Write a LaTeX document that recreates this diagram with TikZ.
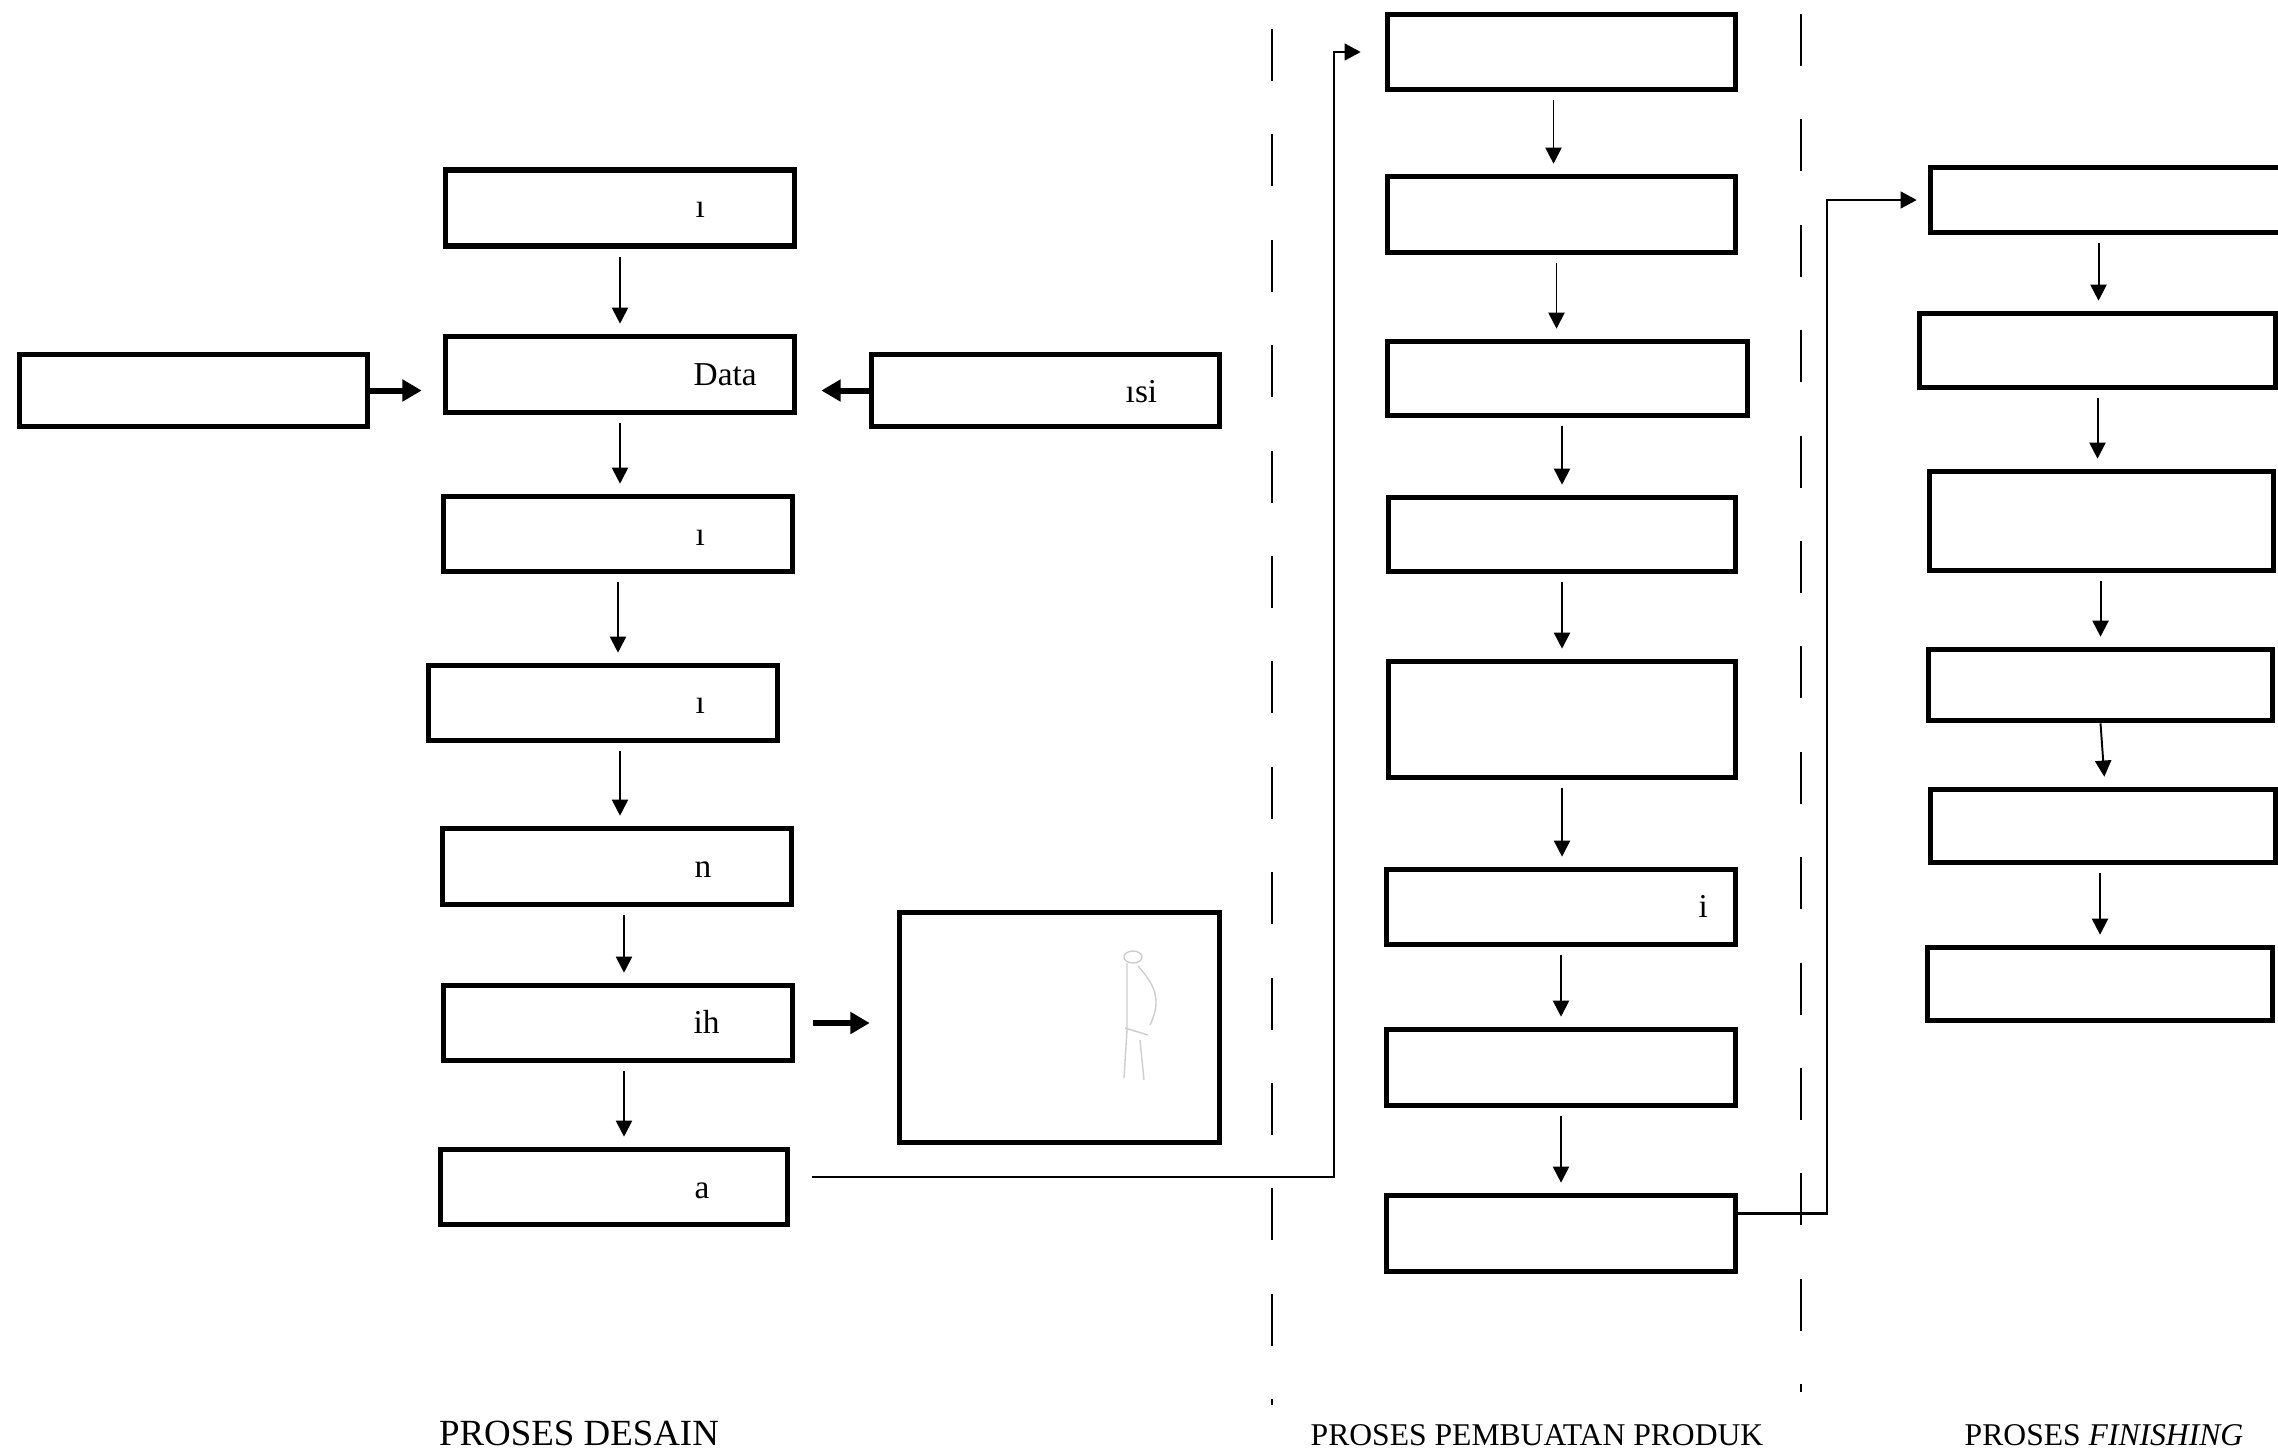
\documentclass[tikz,border=0pt]{standalone}
\usepackage{fontspec}
\setmainfont{Liberation Serif}
\usepackage{tikz}
\usetikzlibrary{arrows.meta,positioning,calc}
\definecolor{sketchgray}{RGB}{205,205,205}
\tikzstyle{stepbox} = [rectangle, draw=black, line width=1.6pt, minimum width=3.49cm, minimum height=0.76cm, inner sep=0pt]
\tikzstyle{flow} = [line width=0.55pt, -{Triangle[length=4.6pt,width=4.6pt]}, shorten <=0.08cm, shorten >=0.1cm]
\tikzstyle{fatarrow} = [line width=1.7pt, -{Triangle[length=5.5pt,width=6pt]}]
\tikzstyle{link} = [line width=0.6pt, -{Triangle[length=4.6pt,width=4.8pt]}]
\tikzstyle{divider} = [line width=0.6pt, dash pattern=on 0.52cm off 0.534cm]
\tikzstyle{frag} = [inner sep=0pt, anchor=base west, font=\fontsize{9.5}{10}\selectfont]
\tikzstyle{phase} = [inner sep=0pt, font=\fontsize{9}{11}\selectfont]

\begin{document}
\begin{tikzpicture}
\useasboundingbox (0,0) rectangle (22.78,-14.54);

% desain
\node[stepbox] (a1) at (6.20,-2.08) {};
\node[stepbox] (a2) at (6.20,-3.745) {};
\node[stepbox, minimum width=3.48cm, minimum height=0.72cm] (l) at (1.935,-3.905) {};
\node[stepbox, minimum width=3.48cm, minimum height=0.72cm] (r) at (10.455,-3.905) {};
\node[stepbox, minimum height=0.75cm] (a3) at (6.18,-5.34) {};
\node[stepbox, minimum height=0.75cm] (a4) at (6.03,-7.03) {};
\node[stepbox] (a5) at (6.17,-8.665) {};
\node[stepbox, minimum height=0.75cm] (a6) at (6.18,-10.23) {};
\node[stepbox, minimum width=3.47cm, minimum height=0.75cm] (a7) at (6.14,-11.87) {};
\node[stepbox, minimum width=3.20cm, minimum height=2.30cm] (p) at (10.595,-10.275) {};

\node[frag] (t1) at (6.95,-2.17) {ı};
\node[frag] (t2) at (6.93,-3.85) {Data};
\node[frag] (t3) at (11.25,-4.02) {ısi};
\node[frag] (t4) at (6.95,-5.45) {ı};
\node[frag] (t5) at (6.95,-7.13) {ı};
\node[frag] (t6) at (6.94,-8.77) {n};
\node[frag] (t7) at (6.93,-10.33) {ih};
\node[frag] (t8) at (6.94,-11.98) {a};

% sketch in the picture box
\begin{scope}[sketchgray, line width=0.4pt]
\draw (11.33,-9.57) ellipse (0.09 and 0.06);
\draw (11.27,-9.63) -- (11.27,-10.30) -- (11.24,-10.78);
\draw (11.38,-9.66) .. controls (11.55,-9.85) and (11.62,-10.0) .. (11.50,-10.25);
\draw (11.25,-10.28) -- (11.48,-10.35);
\draw (11.40,-10.40) -- (11.44,-10.80);
\end{scope}

\draw[flow] (a1.south) -- (a1.south |- a2.north);
\draw[flow] (a2.south) -- (a2.south |- a3.north);
\draw[flow] (a3.south) -- (a3.south |- a4.north);
\draw[flow] ($(a4.south)+(0.17,0)$) -- ($(a4.south |- a5.north)+(0.17,0)$);
\draw[flow] ($(a5.south)+(0.07,0)$) -- ($(a5.south |- a6.north)+(0.07,0)$);
\draw[flow] ($(a6.south)+(0.06,0)$) -- ($(a6.south |- a7.north)+(0.06,0)$);

\draw[fatarrow, shorten >=0.21cm] (l.east) -- (l.east -| a2.west);
\draw[fatarrow, shorten >=0.24cm] (r.west) -- (r.west -| a2.east);
\draw[fatarrow, shorten <=0.18cm, shorten >=0.27cm] (a6.east) -- (a6.east -| p.west);

% pembuatan produk
\node[stepbox, minimum width=3.48cm, minimum height=0.75cm] (b1) at (15.615,-0.52) {};
\node[stepbox, minimum width=3.48cm] (b2) at (15.615,-2.145) {};
\node[stepbox, minimum width=3.60cm, minimum height=0.74cm] (b3) at (15.675,-3.785) {};
\node[stepbox, minimum width=3.47cm, minimum height=0.74cm] (b4) at (15.62,-5.345) {};
\node[stepbox, minimum width=3.47cm, minimum height=1.16cm] (b5) at (15.62,-7.195) {};
\node[stepbox, minimum height=0.75cm] (b6) at (15.61,-9.07) {};
\node[stepbox] (b7) at (15.61,-10.675) {};
\node[stepbox] (b8) at (15.61,-12.335) {};

\node[frag] (t9) at (16.98,-9.17) {i};

\draw[flow] ($(b1.south)+(-0.08,0)$) -- ($(b1.south |- b2.north)+(-0.08,0)$);
\draw[flow] ($(b2.south)+(-0.05,0)$) -- ($(b2.south |- b3.north)+(-0.05,0)$);
\draw[flow] (b4.south |- b3.south) -- (b4.north);
\draw[flow] (b4.south) -- (b4.south |- b5.north);
\draw[flow] (b5.south) -- (b5.south |- b6.north);
\draw[flow] (b6.south) -- (b6.south |- b7.north);
\draw[flow] (b7.south) -- (b7.south |- b8.north);

\draw[link, shorten >=0.24cm] ($(a7.east)+(0.22,0.1)$) -| ($(b1.west)+(-0.51,0)$) -- (b1.west);

% finishing
\node[stepbox, minimum width=3.52cm, minimum height=0.65cm] (c1) at (21.065,-2.00) {};
\node[stepbox, minimum width=3.56cm, minimum height=0.74cm] (c2) at (20.975,-3.505) {};
\node[stepbox, minimum width=3.44cm, minimum height=0.99cm] (c3) at (21.015,-5.21) {};
\node[stepbox, minimum width=3.44cm, minimum height=0.71cm] (c4) at (21.005,-6.85) {};
\node[stepbox, minimum width=3.45cm, minimum height=0.73cm] (c5) at (21.03,-8.26) {};
\node[stepbox, minimum width=3.45cm, minimum height=0.73cm] (c6) at (21.00,-9.84) {};

\draw[flow] ($(c1.south)+(-0.08,0)$) -- ($(c1.south |- c2.north)+(-0.08,0)$);
\draw[flow] (c2.south) -- (c2.south |- c3.north);
\draw[flow] (c3.south -| c4.north) -- (c4.north);
\draw[flow, shorten <=0pt] (c4.south) -- ($(c5.north)+(0.02,0)$);
\draw[flow] (c5.south -| c6.north) -- (c6.north);

\draw[link, shorten >=0.11cm] ($(b8.east)+(0,0.2)$) -| ($(c1.west)+(-1.01,0)$) -- (c1.west);

% batas antar proses
\draw[divider] (12.72,-0.29) -- (12.72,-14.05);
\draw[divider] (18.01,-0.14) -- (18.01,-13.92);

\node[phase, font=\fontsize{10.5}{12}\selectfont] (desain) at (5.79,-14.33) {PROSES DESAIN};
\node[phase] (produk) at (15.37,-14.35) {PROSES PEMBUATAN PRODUK};
\node[phase] (finish) at (21.04,-14.35) {PROSES \textit{FINISHING}};
\end{tikzpicture}
\end{document}
